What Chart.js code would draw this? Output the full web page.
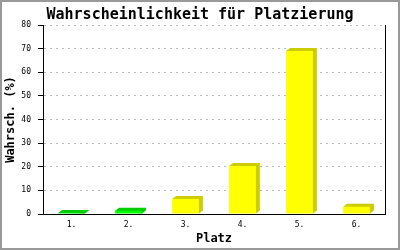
<!DOCTYPE html>
<html>
<head>
    <title>Wahrscheinlichkeit für Platzierung</title>
    <meta charset="UTF-8">
    <style>
        html, body { margin: 0; padding: 0; background: #fff; }
        #box { width: 400px; height: 250px; }
    </style>
</head>
<body>
<div id="box"><canvas id="myChart" width="400" height="250"></canvas></div>
<script src="https://cdn.jsdelivr.net/npm/chart.js@4/dist/chart.umd.min.js"></script>
<script>
    // data
    var places = ['1.', '2.', '3.', '4.', '5.', '6.'];
    var chances = [0.4, 1.4, 6.4, 20.3, 69, 3.1];
    var frontColors = ['#00ff00', '#00ff00', '#ffff00', '#ffff00', '#ffff00', '#ffff00'];
    var shadeColors = ['#00cc00', '#00cc00', '#cccc00', '#cccc00', '#cccc00', '#cccc00'];
    var yTicks = [0, 10, 20, 30, 40, 50, 60, 70, 80];

    var mono = '"DejaVu Sans Mono", "Liberation Mono", monospace';

    // fake 3d: top and side faces behind each bar, plus frame
    var depthPlugin = {
        id: 'depth',
        beforeDatasetsDraw: function (chart) {
            var c = chart.ctx;
            var dx = 4, dy = 3;
            chart.getDatasetMeta(0).data.forEach(function (bar, i) {
                var half = bar.width / 2;
                var l = bar.x - half, r = bar.x + half;
                var t = bar.y, b = bar.base;
                c.save();
                c.fillStyle = shadeColors[i];
                c.beginPath();
                c.moveTo(l, t);
                c.lineTo(l + dx, t - dy);
                c.lineTo(r + dx, t - dy);
                c.lineTo(r + dx, b - dy);
                c.lineTo(r, b);
                c.closePath();
                c.fill();
                c.restore();
            });
        },
        afterDraw: function (chart) {
            var c = chart.ctx;
            var a = chart.chartArea;
            c.save();
            c.strokeStyle = '#000';
            c.lineWidth = 1;
            c.beginPath();
            c.moveTo(a.right + 0.5, a.top);
            c.lineTo(a.right + 0.5, a.bottom);
            c.stroke();
            c.strokeStyle = '#999';
            c.lineWidth = 2;
            c.strokeRect(1, 1, chart.width - 2, chart.height - 2);
            c.restore();
        }
    };

    var ctx = document.getElementById('myChart').getContext('2d');
    var myChart = new Chart(ctx, {
        type: 'bar',
        data: {
            labels: places,
            datasets: [{
                data: chances,
                backgroundColor: frontColors,
                borderWidth: 0,
                barPercentage: 0.47,
                categoryPercentage: 1
            }]
        },
        options: {
            responsive: false,
            animation: false,
            devicePixelRatio: 1,
            layout: { padding: 0 },
            plugins: {
                legend: { display: false },
                tooltip: { enabled: false },
                title: {
                    display: true,
                    text: 'Wahrscheinlichkeit für Platzierung',
                    color: '#000',
                    font: { family: mono, size: 15, weight: 'bold' },
                    padding: { top: 6, bottom: 1 }
                }
            },
            scales: {
                x: {
                    grid: { display: false, drawTicks: false },
                    border: { display: true, color: '#000', width: 1 },
                    ticks: { color: '#000', font: { family: mono, size: 8 }, padding: 6 },
                    title: {
                        display: true,
                        text: 'Platz',
                        color: '#000',
                        font: { family: mono, size: 12, weight: 'bold' },
                        padding: { top: 0, bottom: 4 }
                    },
                    afterFit: function (scale) { scale.height = 36; }
                },
                y: {
                    min: 0,
                    max: 80,
                    afterBuildTicks: function (scale) {
                        scale.ticks = yTicks.map(function (v) { return { value: v }; });
                    },
                    grid: {
                        color: '#bbbbbb',
                        tickColor: '#000',
                        tickLength: 5,
                        tickBorderDash: []
                    },
                    border: { display: true, color: '#000', width: 1, dash: [2, 4] },
                    ticks: { color: '#000', font: { family: mono, size: 8 }, padding: 7 },
                    title: {
                        display: true,
                        text: 'Wahrsch. (%)',
                        color: '#000',
                        font: { family: mono, size: 12, weight: 'bold' },
                        padding: { top: 4, bottom: 0 }
                    },
                    afterFit: function (scale) { scale.width = 43; }
                },
                // empty right-hand strip so the title stays centred on the canvas
                yRight: {
                    position: 'right',
                    min: 0,
                    max: 80,
                    grid: { display: false, drawTicks: false },
                    border: { display: false },
                    ticks: { display: false },
                    afterFit: function (scale) { scale.width = 15; }
                }
            }
        },
        plugins: [depthPlugin]
    });
</script>
</body>
</html>
